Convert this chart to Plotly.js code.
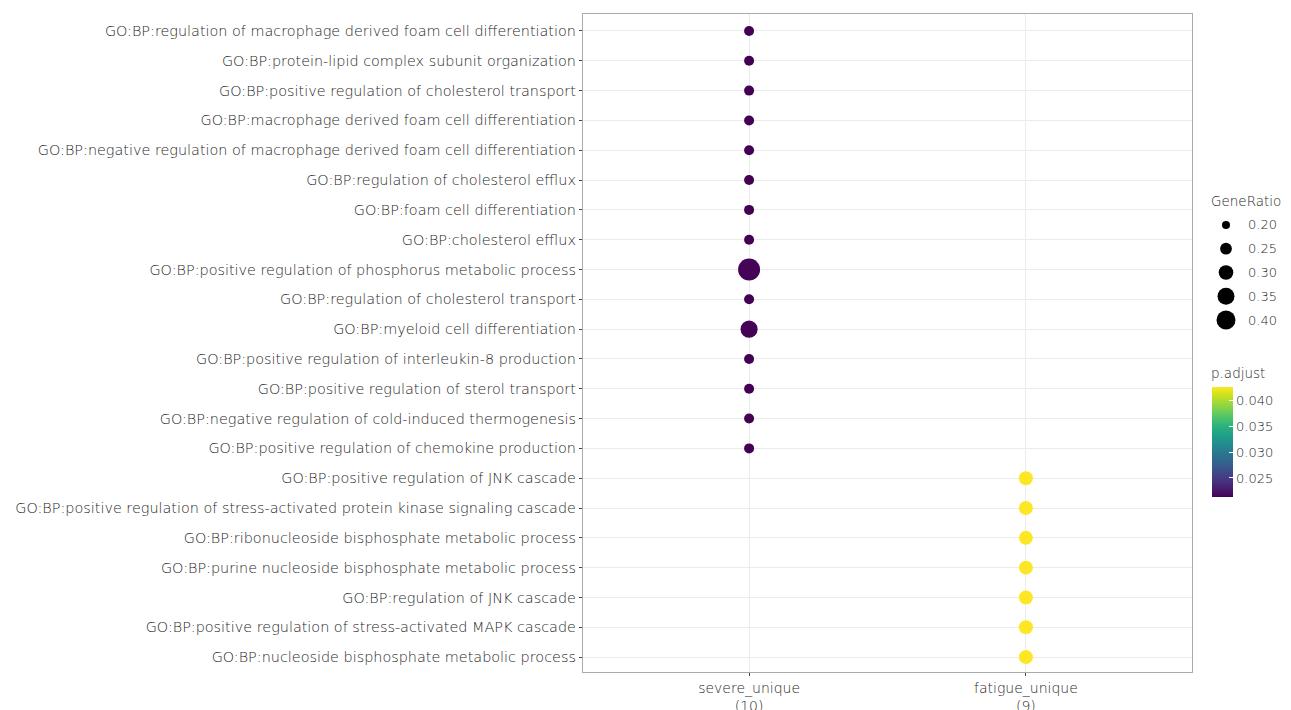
<!DOCTYPE html>
<html><head><meta charset="utf-8">
<script src="https://cdn.plot.ly/plotly-3.0.1.min.js"></script>
<style>html,body{margin:0;padding:0;background:#fff}#chart{width:1291px;height:710px}</style>
</head><body><div id="chart"></div>
<script>
const terms = [
  "GO:BP:regulation of macrophage derived foam cell differentiation",
  "GO:BP:protein-lipid complex subunit organization",
  "GO:BP:positive regulation of cholesterol transport",
  "GO:BP:macrophage derived foam cell differentiation",
  "GO:BP:negative regulation of macrophage derived foam cell differentiation",
  "GO:BP:regulation of cholesterol efflux",
  "GO:BP:foam cell differentiation",
  "GO:BP:cholesterol efflux",
  "GO:BP:positive regulation of phosphorus metabolic process",
  "GO:BP:regulation of cholesterol transport",
  "GO:BP:myeloid cell differentiation",
  "GO:BP:positive regulation of interleukin-8 production",
  "GO:BP:positive regulation of sterol transport",
  "GO:BP:negative regulation of cold-induced thermogenesis",
  "GO:BP:positive regulation of chemokine production",
  "GO:BP:positive regulation of JNK cascade",
  "GO:BP:positive regulation of stress-activated protein kinase signaling cascade",
  "GO:BP:ribonucleoside bisphosphate metabolic process",
  "GO:BP:purine nucleoside bisphosphate metabolic process",
  "GO:BP:regulation of JNK cascade",
  "GO:BP:positive regulation of stress-activated MAPK cascade",
  "GO:BP:nucleoside bisphosphate metabolic process"
];
const groups = ["severe_unique","severe_unique","severe_unique","severe_unique","severe_unique",
  "severe_unique","severe_unique","severe_unique","severe_unique","severe_unique","severe_unique",
  "severe_unique","severe_unique","severe_unique","severe_unique",
  "fatigue_unique","fatigue_unique","fatigue_unique","fatigue_unique","fatigue_unique","fatigue_unique","fatigue_unique"];
const geneRatio = [0.2,0.2,0.2,0.2,0.2,0.2,0.2,0.2,0.4,0.2,0.3,0.2,0.2,0.2,0.2,
  0.25,0.25,0.25,0.25,0.25,0.25,0.25];
const pAdjust = [0.0213,0.0213,0.0213,0.0213,0.0213,0.0213,0.0213,0.0213,0.0215,0.0213,0.0214,0.0213,0.0213,0.0213,0.0213,
  0.0427,0.0427,0.0427,0.0427,0.0427,0.0427,0.0427];
const xCategories = ["severe_unique","fatigue_unique"];
const xTickLabels = ["severe_unique<br>(10)","fatigue_unique<br>(9)"];
const sizeBreaks = [0.20,0.25,0.30,0.35,0.40];
const sizeBreakLabels = ["0.20","0.25","0.30","0.35","0.40"];
const colorTicks = [0.025,0.030,0.035,0.040];
const colorTickLabels = ["0.025","0.030","0.035","0.040"];

function dia(v){ const t=(v-0.2)/0.2; return Math.sqrt(t*(22*22-10*10)+10*10); }
function dialeg(v){ const t=(v-0.2)/0.2; return Math.sqrt(t*(19*19-8*8)+8*8); }

const W=1291,H=710, L=583, R=10, T=14, B=38;
const pw=W-L-R, ph=H-T-B;
const px=x=>(x-L)/pw, py=y=>(H-B-y)/ph;

const fontFam = "'DejaVu Sans', sans-serif";
const txtCol = "#1f1f1f";

const traces = [{
  type:'scatter', mode:'markers', x:groups, y:terms,
  marker:{size:geneRatio.map(dia), color:pAdjust, colorscale:'Viridis',
    line:{width:0}, opacity:1,
    colorbar:{x:px(1212), xanchor:'left', y:py(442), yanchor:'middle', len:110, lenmode:'pixels',
      thickness:21, thicknessmode:'pixels', outlinewidth:0,
      tickvals:colorTicks, ticktext:colorTickLabels, ticks:'inside', ticklen:4, tickcolor:'#fff',
      tickfont:{family:fontFam,size:13,color:txtCol,weight:300}, xpad:0, ypad:0}},
  showlegend:false, hoverinfo:'x+y'
},{
  type:'scatter', mode:'markers', x:sizeBreaks.map(()=>0), y:sizeBreaks,
  xaxis:'x2', yaxis:'y2', marker:{size:sizeBreaks.map(dialeg), color:'#000000', opacity:1, line:{width:0}},
  showlegend:false, hoverinfo:'skip'
}];

const annotations = sizeBreaks.map((v,i)=>({xref:'paper', yref:'y2', x:px(1246), y:v, xanchor:'left', yanchor:'middle',
  text:sizeBreakLabels[i], showarrow:false, font:{family:fontFam,size:13,color:txtCol,weight:300}}));
annotations.push({xref:'paper',yref:'paper',x:px(1209),y:py(201),xanchor:'left',yanchor:'middle',text:'GeneRatio',showarrow:false,font:{family:fontFam,size:13.5,color:txtCol,weight:300}});
annotations.push({xref:'paper',yref:'paper',x:px(1209),y:py(373),xanchor:'left',yanchor:'middle',text:'p.adjust',showarrow:false,font:{family:fontFam,size:13.5,color:txtCol,weight:300}});

const layout = {
  width:W, height:H, margin:{l:L,r:R,t:T,b:B}, paper_bgcolor:'#fff', plot_bgcolor:'#fff',
  font:{family:fontFam,color:txtCol},
  xaxis:{domain:[0,(1192-L)/pw], type:'category', categoryorder:'array', categoryarray:xCategories,
    tickvals:xCategories, ticktext:xTickLabels, range:[-0.6,1.6],
    showgrid:true, gridcolor:'#ebebeb', gridwidth:1, zeroline:false,
    showline:true, linecolor:'#aaaaaa', linewidth:1.2, mirror:true,
    ticks:'outside', ticklen:3, tickcolor:'#444', tickfont:{family:fontFam,size:14,color:txtCol,weight:300}},
  yaxis:{type:'category', categoryorder:'array', categoryarray:terms.slice().reverse(),
    range:[-0.5,21.57], showgrid:true, gridcolor:'#ebebeb', gridwidth:1, zeroline:false,
    showline:true, linecolor:'#aaaaaa', linewidth:1.2, mirror:true,
    ticks:'outside', ticklen:3, tickcolor:'#444', tickfont:{family:fontFam,size:14.4,color:txtCol,weight:300}},
  xaxis2:{domain:[px(1216),px(1236)], range:[-1,1], visible:false, fixedrange:true, anchor:'y2'},
  yaxis2:{domain:[py(330),py(215)], range:[0.421,0.179], visible:false, fixedrange:true, anchor:'x2'},
  annotations:annotations
};
Plotly.newPlot('chart', traces, layout, {displayModeBar:false, staticPlot:true});
</script></body></html>
